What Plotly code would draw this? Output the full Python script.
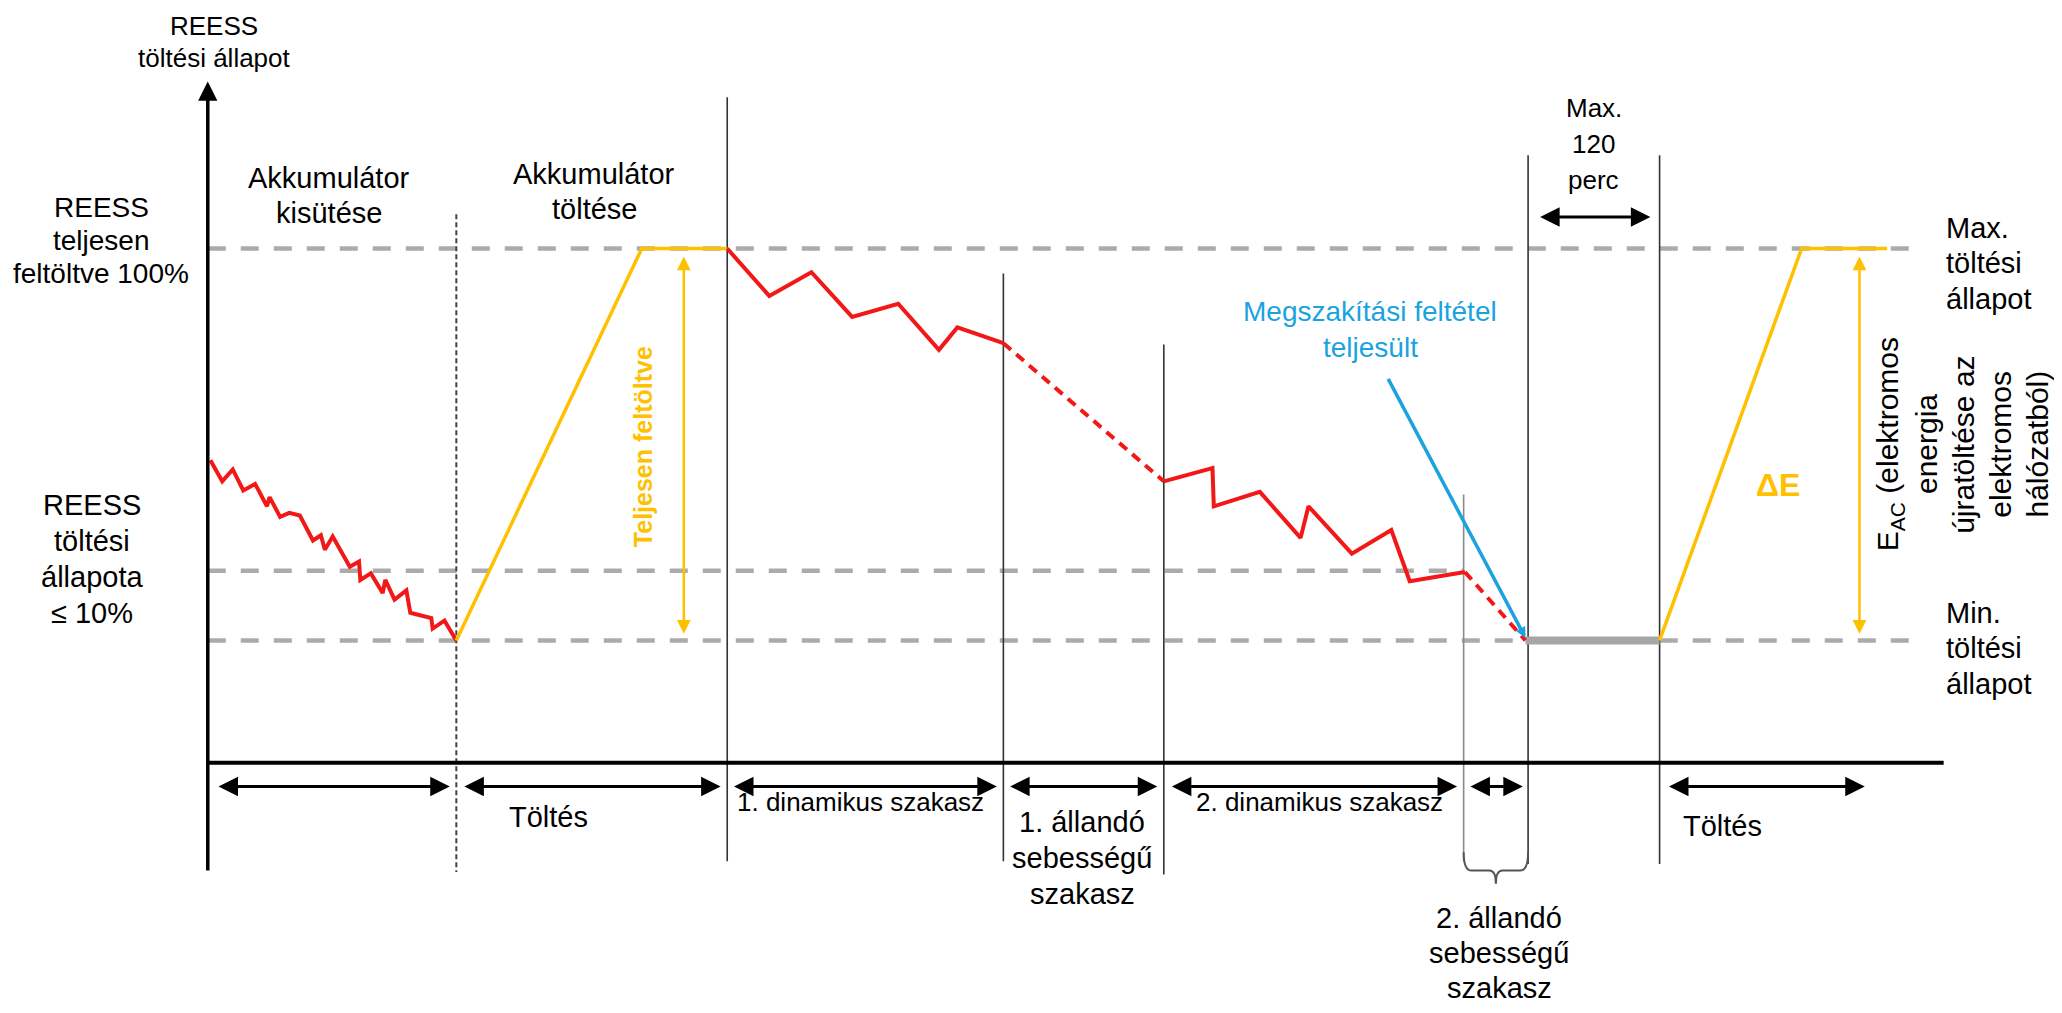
import plotly.graph_objects as go

# ---------------- data (diagram units: time → x, state of charge → y, 0 at top) ----------------
t_bounds = [158, 347, 553, 763, 885, 1113, 1162, 1262]        # phase boundaries
line_top = [None, 163, 74, 208, 262, 376, 118, 118]
line_bot = [None, 663, 655, 655, 665, 655, 657, 657]

soc_max, soc_mid, soc_min = 189, 434, 487
axis_y = 580
t_end = 1478

t_d1 = [160, 169, 177, 185, 194, 203, 205, 213, 220, 228, 238, 244, 247, 253, 266, 273, 274,
        282, 291, 293, 300, 309, 312, 328, 329, 338, 347]
soc_d1 = [350, 366, 357, 373, 368, 385, 378, 393, 390, 392, 411, 407, 418, 408, 431, 427, 441,
          436, 451, 441, 456, 449, 466, 470, 478, 472, 487]

t_c1 = [347, 488, 553]
soc_c1 = [487, 189, 189]

t_dyn1 = [553, 585, 617, 648, 683, 714, 728, 763]
soc_dyn1 = [189, 225, 207, 241, 231, 266, 249, 261]

t_cs1 = [763, 885]
soc_cs1 = [261, 366]

t_dyn2 = [885, 922, 923, 958, 989, 995, 1028, 1058, 1072, 1114]
soc_dyn2 = [366, 356, 385, 374, 409, 385, 421, 403, 442, 435]

t_cs2 = [1114, 1160]
soc_cs2 = [435, 487]

t_soak = [1160, 1262]
t_c2 = [1262, 1370, 1435]
soc_c2 = [487, 189, 189]

t_stop = [1055, 1160]
soc_stop = [287, 485]

RED = "#F21818"
YEL = "#FFC000"
BLUE = "#1BA3DF"
GRAY = "#ABABAB"
FONT = "Liberation Sans, Arial, sans-serif"

# page body has an 8px margin: shrink the figure and shift ranges so units map 1.315 px each
PX = 2062 / 1568
OFF = 8 / PX
W, H = 2062 - 16, 1013 - 16

fig = go.Figure()

def line(x, y, color, width, dash=None):
    fig.add_trace(go.Scatter(x=x, y=y, mode="lines", hoverinfo="skip",
                             line=dict(color=color, width=width, dash=dash)))

# gray reference levels
line([t_bounds[0], 1460], [soc_max] * 2, GRAY, 4.5, "18px,15px")
line([t_bounds[0], t_bounds[5]], [soc_mid] * 2, GRAY, 4.5, "18px,15px")
line([t_bounds[0], 1460], [soc_min] * 2, GRAY, 4.5, "18px,15px")

# phase boundary lines
line([t_bounds[1]] * 2, [line_top[1], line_bot[1]], "#444444", 2, "5px,3px")
for i in range(2, len(t_bounds)):
    col = "#8a8a8a" if i == 5 else "#333333"
    line([t_bounds[i]] * 2, [line_top[i], line_bot[i]], col, 1.6)

# soak bar
line(t_soak, [soc_min] * 2, "#A6A6A6", 8)

# SOC curves
line(t_d1, soc_d1, RED, 4)
line(t_c1, soc_c1, YEL, 3.5)
line(t_dyn1, soc_dyn1, RED, 4)
line(t_cs1, soc_cs1, RED, 4, "10px,7px")
line(t_dyn2, soc_dyn2, RED, 4)
line(t_cs2, soc_cs2, RED, 4, "10px,7px")
line(t_c2, soc_c2, YEL, 3.5)

# x axis
line([t_bounds[0], t_end], [axis_y] * 2, "black", 4)

ann = []

def arrow(x0, y0, x1, y1, color="black", width=3, both=True, head=2, size=1.3):
    ann.append(dict(x=x1, y=y1, ax=x0, ay=y0, xref="x", yref="y", axref="x", ayref="y",
                    text="", showarrow=True, arrowhead=head, startarrowhead=head,
                    arrowsize=size, startarrowsize=size, arrowwidth=width, arrowcolor=color,
                    arrowside="end+start" if both else "end"))

def text(x, y, s, size=29, color="black", angle=0, bold=False, xanchor="center"):
    if bold:
        s = "<b>" + s + "</b>"
    ann.append(dict(x=x, y=y, xref="x", yref="y", text=s, showarrow=False, textangle=angle,
                    xanchor=xanchor, yanchor="middle",
                    font=dict(family=FONT, size=size, color=color)))

def mtext(x, y0, dy, lines, **kw):
    for i, s in enumerate(lines):
        text(x, y0 + i * dy, s, **kw)

# y axis with arrow
arrow(t_bounds[0], 663, t_bounds[0], 62, width=3.5, both=False, size=1.1)

# blue stop-criterion line
arrow(t_stop[0], soc_stop[0], t_stop[1], soc_stop[1], color=BLUE, width=3.5, both=False, size=0.6)

# yellow delta arrows
arrow(520, 483, 520, 195, color=YEL, width=2.5, size=1.1)
arrow(1414, 483, 1414, 195, color=YEL, width=2.5, size=1.1)

# phase duration arrows
arrow_y = 598
gaps = [(t_bounds[0] + 7, t_bounds[1] - 5), (t_bounds[1] + 5, t_bounds[2] - 5),
        (t_bounds[2] + 4, t_bounds[3] - 5), (t_bounds[3] + 4, t_bounds[4] - 5),
        (t_bounds[4] + 5, t_bounds[5] - 5), (t_bounds[5] + 4, t_bounds[6] - 4),
        (t_bounds[7] + 6, 1418)]
for a, b in gaps:
    arrow(a, arrow_y, b, arrow_y)
arrow(t_bounds[6] + 8, 165, t_bounds[7] - 7, 165)

# bracket under 2nd constant-speed phase
bx0, bx1 = t_bounds[5], t_bounds[6]
bm = (bx0 + bx1) / 2
fig.add_shape(type="path", xref="x", yref="y",
              path=(f"M {bx0} 648 Q {bx0} 662 {bx0 + 6} 662 L {bm - 5} 662 Q {bm} 662 {bm} 672 "
                    f"Q {bm} 662 {bm + 5} 662 L {bx1 - 6} 662 Q {bx1} 662 {bx1} 648"),
              line=dict(color="#555555", width=2))

# texts
mtext(163, 20, 24, ["REESS", "töltési állapot"], size=26)
mtext(250, 135, 27, ["Akkumulátor", "kisütése"])
mtext(452, 132, 27, ["Akkumulátor", "töltése"])
mtext(77, 158, 25, ["REESS", "teljesen", "feltöltve 100%"], size=28)
mtext(70, 384, 27.5, ["REESS", "töltési", "állapota", "≤ 10%"])
text(489, 340, "Teljesen feltöltve", size=25, color=YEL, angle=-90, bold=True)
mtext(1042, 237, 27, ["Megszakítási feltétel", "teljesült"], size=28, color=BLUE)
mtext(1212, 82, 27.5, ["Max.", "120", "perc"], size=26)
mtext(1478, 173, 27, ["Max.", "töltési", "állapot"], xanchor="left")
mtext(1478, 466, 27, ["Min.", "töltési", "állapot"], xanchor="left")
text(1352, 369, "ΔE", size=32, color=YEL, bold=True)
eac_lines = ["E<sub>AC</sub> (elektromos", "energia", "újratöltése az", "elektromos", "hálózatból)"]
for i, s in enumerate(eac_lines):
    text(1437 + i * 28, 338, s, size=30, angle=-90)
text(417, 621, "Töltés")
text(654, 610, "1. dinamikus szakasz", size=26)
mtext(823, 625, 27.5, ["1. állandó", "sebességű", "szakasz"])
text(1003, 610, "2. dinamikus szakasz", size=26)
text(1310, 628, "Töltés")
mtext(1140, 698, 26.5, ["2. állandó", "sebességű", "szakasz"])

fig.update_layout(
    width=W, height=H, margin=dict(l=0, r=0, t=0, b=0),
    paper_bgcolor="white", plot_bgcolor="white", showlegend=False,
    xaxis=dict(range=[OFF, OFF + W / PX], visible=False, fixedrange=True),
    yaxis=dict(range=[OFF + H / PX, OFF], visible=False, fixedrange=True),
    annotations=ann,
)

fig.write_html("out.html")
